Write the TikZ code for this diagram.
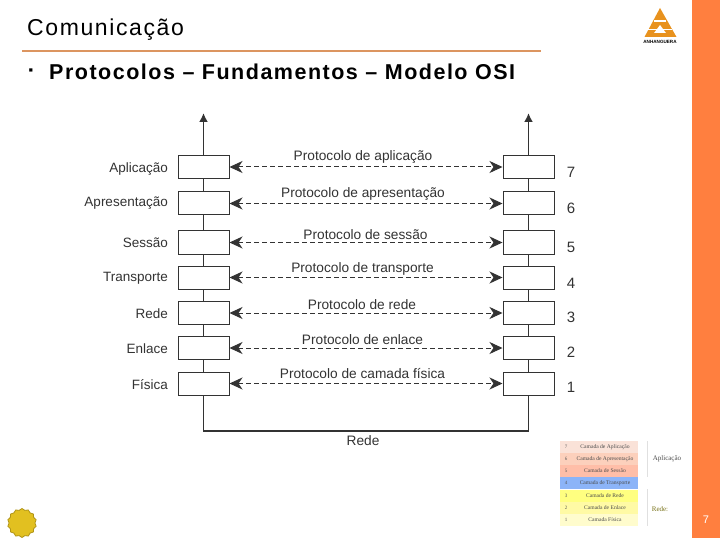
\documentclass[tikz,border=0pt]{standalone}
\usepackage{fontspec}
\setmainfont{Liberation Sans}
\newfontfamily\tablefont{Liberation Serif}
\newfontfamily\titlefont[LetterSpace=7]{Liberation Sans}
\newfontfamily\subtitlefont[LetterSpace=7]{Liberation Sans}
\usetikzlibrary{arrows.meta, shapes.geometric}
\definecolor{barorange}{HTML}{FF7F3F}
\definecolor{logoorange}{HTML}{E8921E}
\definecolor{ruleorange}{HTML}{DC9560}
\definecolor{inkgray}{HTML}{333333}
\tikzset{
  layer/.style={draw=inkgray, line width=1pt, fill=white, minimum width=51pt, minimum height=23pt, inner sep=0pt},
  layername/.style={anchor=east, inner sep=0pt, text=inkgray, font=\fontsize{13.5}{15}\selectfont},
  layernum/.style={inner sep=0pt, text=inkgray, font=\fontsize{15}{17}\selectfont},
  proto/.style={inner sep=0pt, text=inkgray, font=\fontsize{13.7}{15}\selectfont},
  peer/.style={dashed, dash pattern=on 5pt off 3pt, line width=1pt, color=inkgray, {Stealth[length=13pt,width=12pt,inset=4pt]}-{Stealth[length=13pt,width=12pt,inset=4pt]}},
  stack/.style={line width=1.8pt, color=inkgray},
  numcell/.style={minimum width=12pt, minimum height=12pt, inner sep=0pt, text=black!65, font=\tablefont\fontsize{5}{6}\selectfont},
  namecell/.style={minimum width=66pt, minimum height=12pt, inner sep=0pt, text=black!70, font=\tablefont\fontsize{5.6}{6}\selectfont}
}
\begin{document}
\begin{tikzpicture}[x=1pt, y=-1pt]
\useasboundingbox (0,0) rectangle (720,540);
\fill [white] (0,0) rectangle (720,540);
% frame of the slide
\fill [barorange] (692,0) rectangle (720,538);
\node (page) [text=white, font=\fontsize{11}{12}\selectfont] at (706,520) {7};
\node (title) [anchor=west, inner sep=0pt, font=\titlefont\fontsize{23}{26}\selectfont] at (27,30) {Comunicação};
\draw [ruleorange, line width=1.6pt] (22,50.8) -- (541,50.8);
\node (bullet) [inner sep=0pt, font=\fontsize{13}{14}\selectfont] at (31,72) {▪};
\node (subtitle) [anchor=west, inner sep=0pt, font=\subtitlefont\bfseries\fontsize{21.5}{24}\selectfont] at (49,72) {Protocolos – Fundamentos – Modelo OSI};
% logo
\fill [logoorange] (660,8) -- (676.5,37) -- (644.5,37) -- cycle;
\fill [white] (654,20) rectangle (666,22);
\fill [white] (660,25) -- (666,33) -- (654,33) -- cycle;
\fill [white] (648,29) rectangle (672,30);
\node (logotext) [inner sep=0pt, font=\bfseries\fontsize{4.6}{5}\selectfont] at (660,42) {ANHANGUERA};
\node (seal) [star, star points=14, star point ratio=1.12, fill={rgb,255:red,226;green,192;blue,32}, draw={rgb,255:red,176;green,148;blue,24}, line width=0.8pt, minimum size=29pt, inner sep=0pt] at (22,523) {};
% left stack
\node (l7) [layer] at (203.5,167) {};
\node (l6) [layer] at (203.5,203.5) {};
\node (l5) [layer] at (203.5,242.5) {};
\node (l4) [layer] at (203.5,277.5) {};
\node (l3) [layer] at (203.5,313) {};
\node (l2) [layer] at (203.5,348) {};
\node (l1) [layer] at (203.5,383.5) {};
% right stack
\node (r7) [layer] at (528.5,167) {};
\node (r6) [layer] at (528.5,203.5) {};
\node (r5) [layer] at (528.5,242.5) {};
\node (r4) [layer] at (528.5,277.5) {};
\node (r3) [layer] at (528.5,313) {};
\node (r2) [layer] at (528.5,348) {};
\node (r1) [layer] at (528.5,383.5) {};
\coordinate (ltop) at (203.5,113);
\coordinate (rtop) at (528.5,113);
\coordinate (lbot) at (203.5,431);
\coordinate (rbot) at (528.5,431);
\path [stack]
     (l7) edge [-{Latex[length=9pt,width=9pt]}] (ltop)
     (l7) edge (l6) (l6) edge (l5) (l5) edge (l4) (l4) edge (l3) (l3) edge (l2) (l2) edge (l1)
     (r7) edge [-{Latex[length=9pt,width=9pt]}] (rtop)
     (r7) edge (r6) (r6) edge (r5) (r5) edge (r4) (r4) edge (r3) (r3) edge (r2) (r2) edge (r1);
\draw [stack] (l1) -- (lbot) -- (rbot) -- (r1);
\path [peer]
     (l7) edge (r7) (l6) edge (r6) (l5) edge (r5) (l4) edge (r4)
     (l3) edge (r3) (l2) edge (r2) (l1) edge (r1);
% labels
\node (n7) [layername] at (168,169) {Aplicação};
\node (n6) [layername] at (168,203) {Apresentação};
\node (n5) [layername] at (168,243) {Sessão};
\node (n4) [layername] at (168,278) {Transporte};
\node (n3) [layername] at (168,314) {Rede};
\node (n2) [layername] at (168,349) {Enlace};
\node (n1) [layername] at (168,385) {Física};
\node (d7) [layernum] at (571,172) {7};
\node (d6) [layernum] at (571,208) {6};
\node (d5) [layernum] at (571,247) {5};
\node (d4) [layernum] at (571,283) {4};
\node (d3) [layernum] at (571,317) {3};
\node (d2) [layernum] at (571,352) {2};
\node (d1) [layernum] at (571,387) {1};
\node (p7) [proto] at (363,157) {Protocolo de aplicação};
\node (p6) [proto] at (363,194) {Protocolo de apresentação};
\node (p5) [proto] at (365.5,235) {Protocolo de sessão};
\node (p4) [proto] at (362.5,269) {Protocolo de transporte};
\node (p3) [proto] at (362,305) {Protocolo de rede};
\node (p2) [proto] at (362.5,340) {Protocolo de enlace};
\node (p1) [proto] at (362.5,374) {Protocolo de camada física};
\node (net) [proto] at (363,441) {Rede};
% small table
\node (t7) [numcell, fill={rgb,255:red,250;green,226;blue,216}] at (566,447) {7};
\node (c7) [namecell, fill={rgb,255:red,250;green,226;blue,216}] at (605,447) {Camada de Aplicação};
\node (t6) [numcell, fill={rgb,255:red,252;green,208;blue,188}] at (566,459) {6};
\node (c6) [namecell, fill={rgb,255:red,252;green,208;blue,188}] at (605,459) {Camada de Apresentação};
\node (t5) [numcell, fill={rgb,255:red,255;green,190;blue,168}] at (566,471) {5};
\node (c5) [namecell, fill={rgb,255:red,255;green,190;blue,168}] at (605,471) {Camada de Sessão};
\node (t4) [numcell, fill={rgb,255:red,140;green,180;blue,248}] at (566,483) {4};
\node (c4) [namecell, fill={rgb,255:red,140;green,180;blue,248}] at (605,483) {Camada de Transporte};
\node (t3) [numcell, fill={rgb,255:red,255;green,255;blue,128}] at (566,495.5) {3};
\node (c3) [namecell, fill={rgb,255:red,255;green,255;blue,128}] at (605,495.5) {Camada de Rede};
\node (t2) [numcell, fill={rgb,255:red,255;green,250;blue,165}] at (566,508) {2};
\node (c2) [namecell, fill={rgb,255:red,255;green,250;blue,165}] at (605,508) {Camada de Enlace};
\node (t1) [numcell, fill={rgb,255:red,255;green,252;blue,205}] at (566,520) {1};
\node (c1) [namecell, fill={rgb,255:red,255;green,252;blue,205}] at (605,520) {Camada Física};
\draw [black!12, line width=0.6pt] (647,441) -- (647,477) (647,489) -- (647,526);
\node (apl) [inner sep=0pt, text=black!70, font=\tablefont\fontsize{7}{8}\selectfont] at (667,459) {Aplicação};
\node (red) [inner sep=0pt, text=olive!80!black, font=\tablefont\fontsize{7}{8}\selectfont] at (660,509) {Rede:};
\end{tikzpicture}
\end{document}
